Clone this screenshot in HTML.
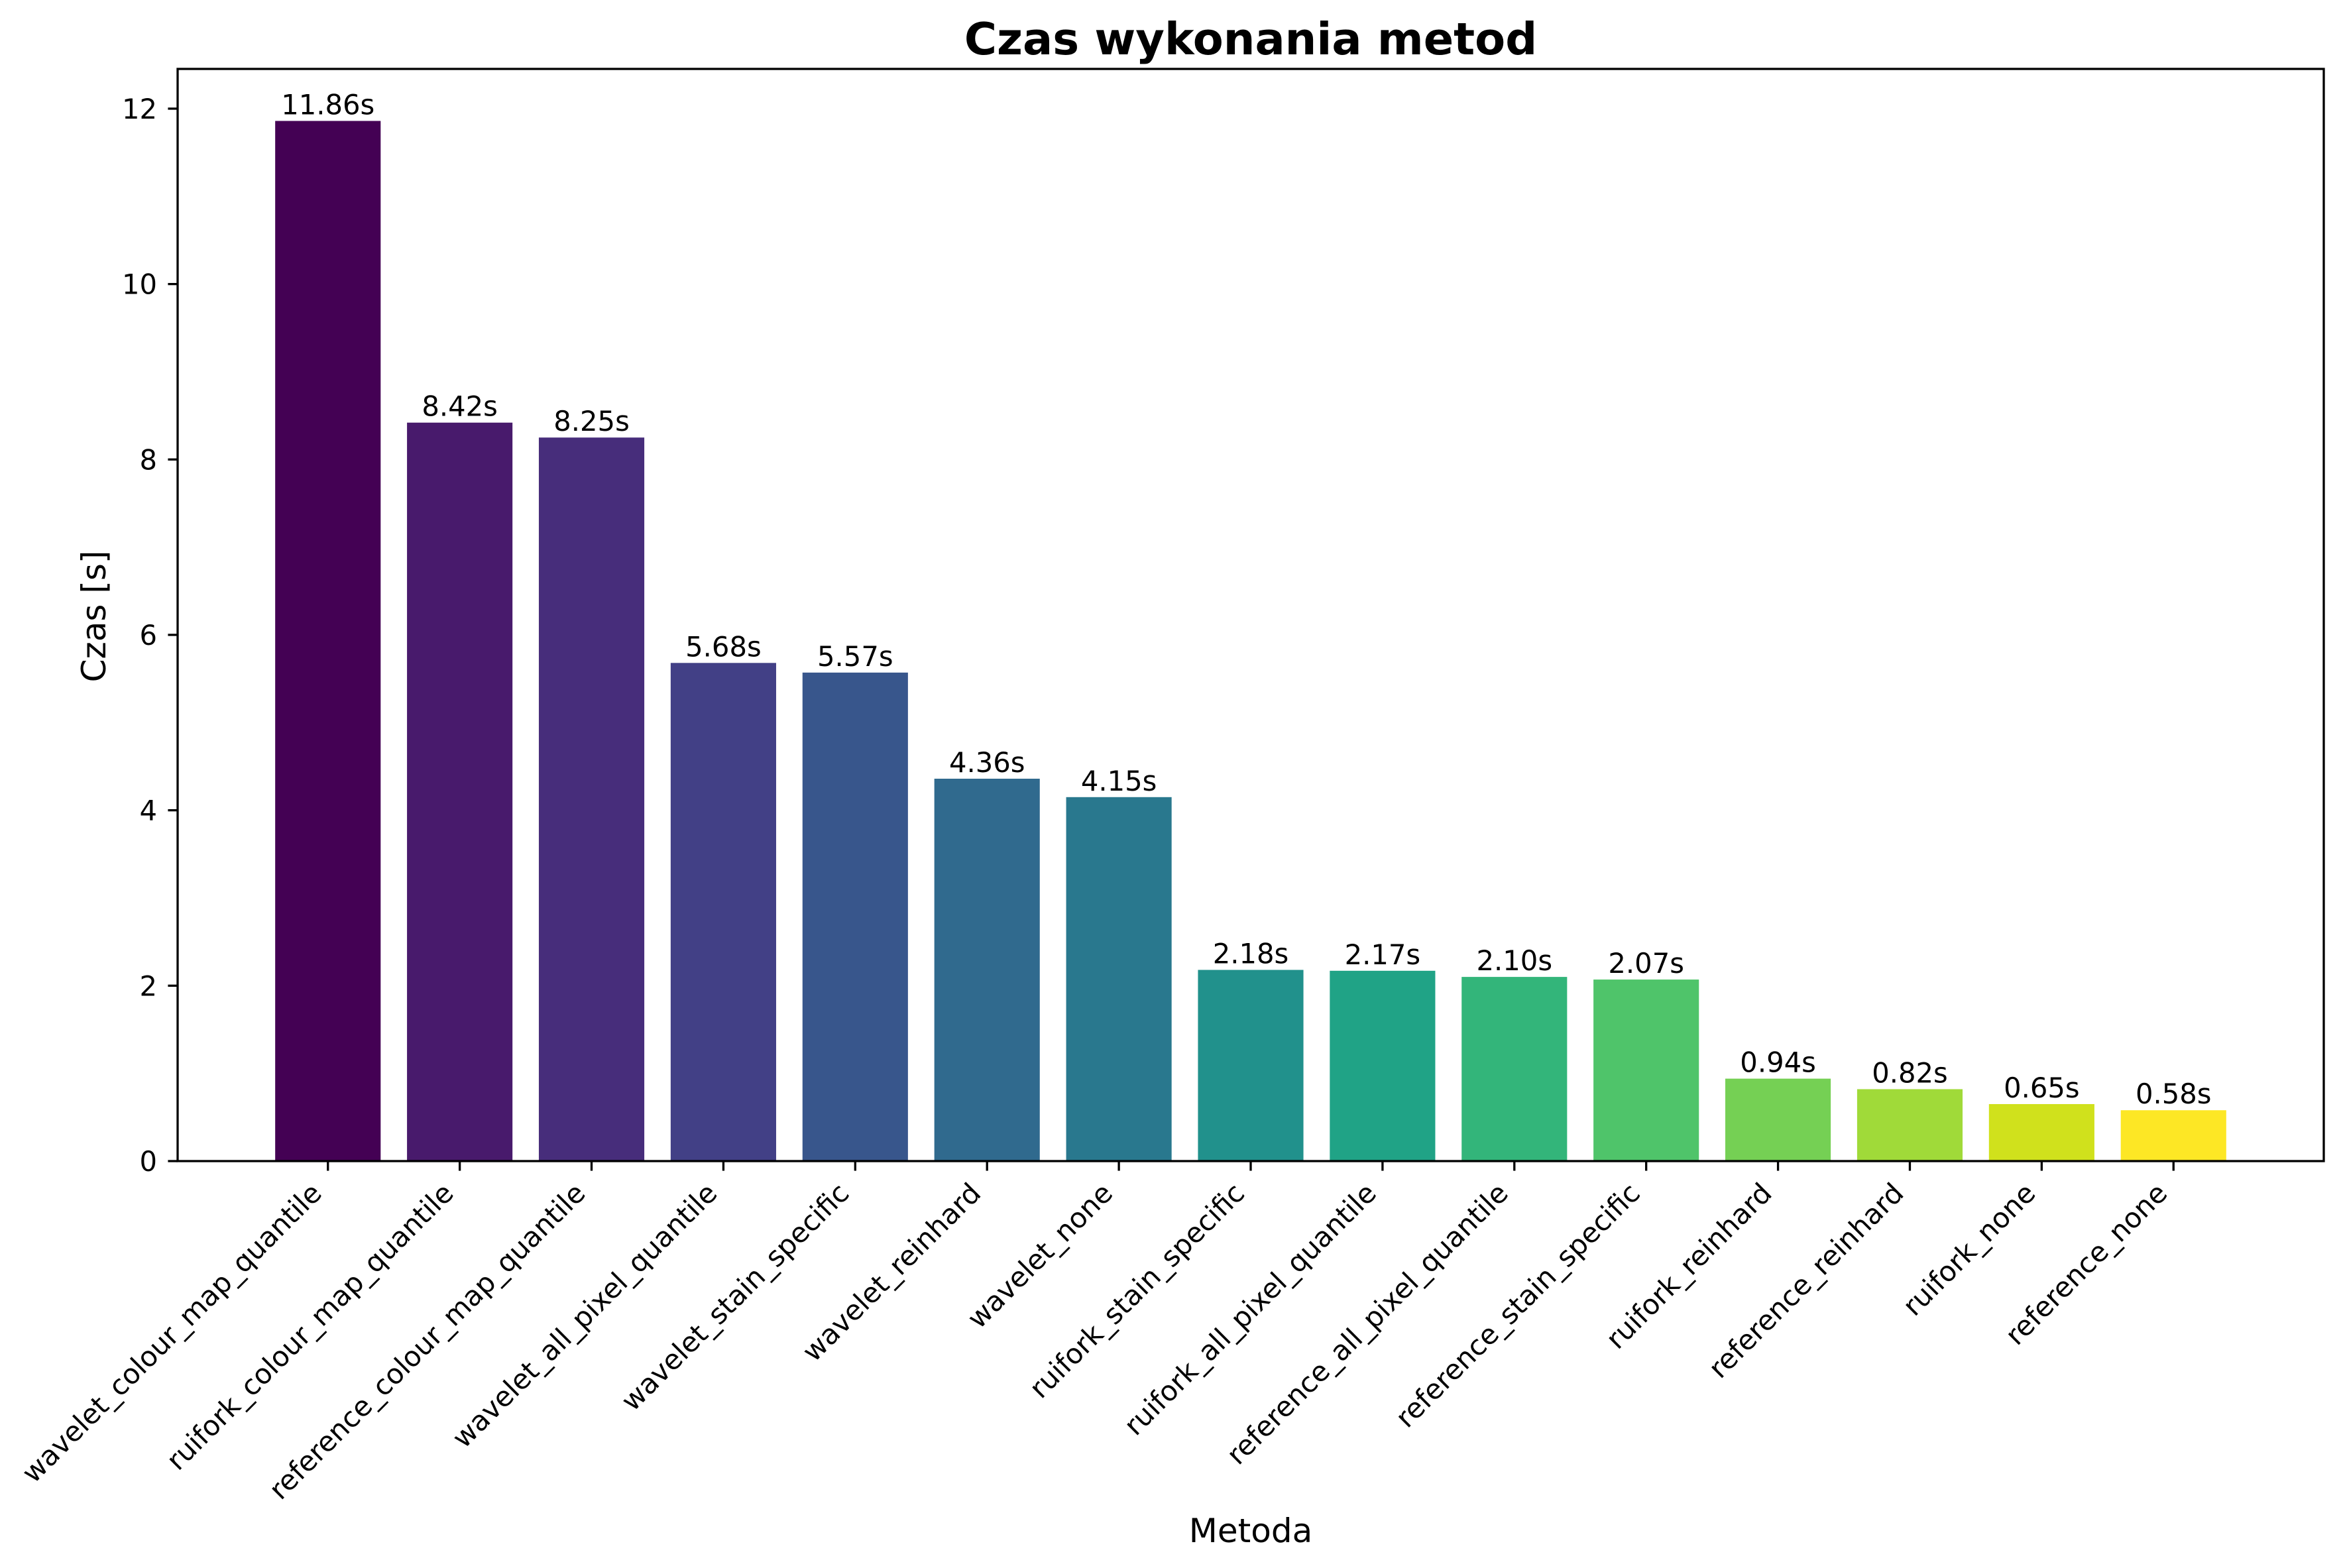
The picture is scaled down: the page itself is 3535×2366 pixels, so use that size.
<!DOCTYPE html>
<html><head><meta charset="utf-8">
<style>
html,body{margin:0;padding:0;background:#fff;}
svg{display:block;font-family:"DejaVu Sans","Liberation Sans",sans-serif;}
</style></head>
<body>
<svg id="chart" width="3535" height="2366" viewBox="0 0 3535 2366" xmlns="http://www.w3.org/2000/svg">
<rect x="0" y="0" width="3535" height="2366" fill="#fff"/>
<text x="1887" y="82" font-size="67" font-weight="bold" text-anchor="middle">Czas wykonania metod</text>
<text x="1887" y="2327" font-size="50" text-anchor="middle">Metoda</text>
<text transform="translate(159,930) rotate(-90)" x="0" y="0" font-size="50" text-anchor="middle">Czas [s]</text>
<g id="bars"></g>
<g id="axes"></g>
</svg>
<script>
const categories = ["wavelet_colour_map_quantile","ruifork_colour_map_quantile","reference_colour_map_quantile","wavelet_all_pixel_quantile","wavelet_stain_specific","wavelet_reinhard","wavelet_none","ruifork_stain_specific","ruifork_all_pixel_quantile","reference_all_pixel_quantile","reference_stain_specific","ruifork_reinhard","reference_reinhard","ruifork_none","reference_none"];
const values = [11.86,8.42,8.25,5.68,5.57,4.36,4.15,2.18,2.17,2.10,2.07,0.94,0.82,0.65,0.58];
const valueLabels = ["11.86s","8.42s","8.25s","5.68s","5.57s","4.36s","4.15s","2.18s","2.17s","2.10s","2.07s","0.94s","0.82s","0.65s","0.58s"];
const barColors = ["#440154","#481a6c","#472d7b","#424086","#38568c","#306a8e","#29788e","#21918c","#20a386","#33b57a","#4fc46a","#75d054","#a0da39","#d0e11c","#fde725"];
const yTicks = [0,2,4,6,8,10,12];
const yTickLabels = ["0","2","4","6","8","10","12"];

const NS = "http://www.w3.org/2000/svg";
const L = 268, R = 3506, T = 104, B = 1752;
const n = categories.length;
const xMin = -0.4 - 0.05*(n-1+0.8), xMax = (n-1)+0.4 + 0.05*(n-1+0.8);
const yMax = Math.max(...values)*1.05;
function xScale(v){ return L + (v - xMin)/(xMax - xMin)*(R - L); }
function yScale(v){ return B - v/yMax*(B - T); }
function mk(tag, attrs, parent){ const e=document.createElementNS(NS,tag); for(const k in attrs) e.setAttribute(k,attrs[k]); parent.appendChild(e); return e; }

const gBars = document.getElementById('bars');
const gAxes = document.getElementById('axes');
const bw = xScale(0.4) - xScale(-0.4);
values.forEach((v,i)=>{
  const cx = xScale(i), y = yScale(v);
  const r = mk('rect',{x:cx-bw/2,y:y,width:bw,height:B-y,fill:barColors[i]},gBars);
  
  
  const t = mk('text',{x:cx,y:y-10,'font-size':41.7,'text-anchor':'middle'},gBars);
  t.textContent = valueLabels[i];
  
  
  // x tick
  const tk = mk('line',{x1:cx,y1:B,x2:cx,y2:B+14.6,stroke:'#000','stroke-width':3.3},gAxes);
  
  
  const lb = mk('text',{transform:`translate(${cx-7},${1803}) rotate(-45)`,x:0,y:0,'font-size':41.7,'text-anchor':'end'},gAxes);
  lb.textContent = categories[i];
  
  
});
yTicks.forEach((v,i)=>{
  const y = yScale(v);
  const tk = mk('line',{x1:L-14.6,y1:y,x2:L,y2:y,stroke:'#000','stroke-width':3.3},gAxes);
  
  
  const lb = mk('text',{x:237,y:y+15,'font-size':41.7,'text-anchor':'end'},gAxes);
  lb.textContent = yTickLabels[i];
  
  
});
const frame = mk('rect',{x:L,y:T,width:R-L,height:B-T,fill:'none',stroke:'#000','stroke-width':3.3},gAxes);


</script>
</body></html>
